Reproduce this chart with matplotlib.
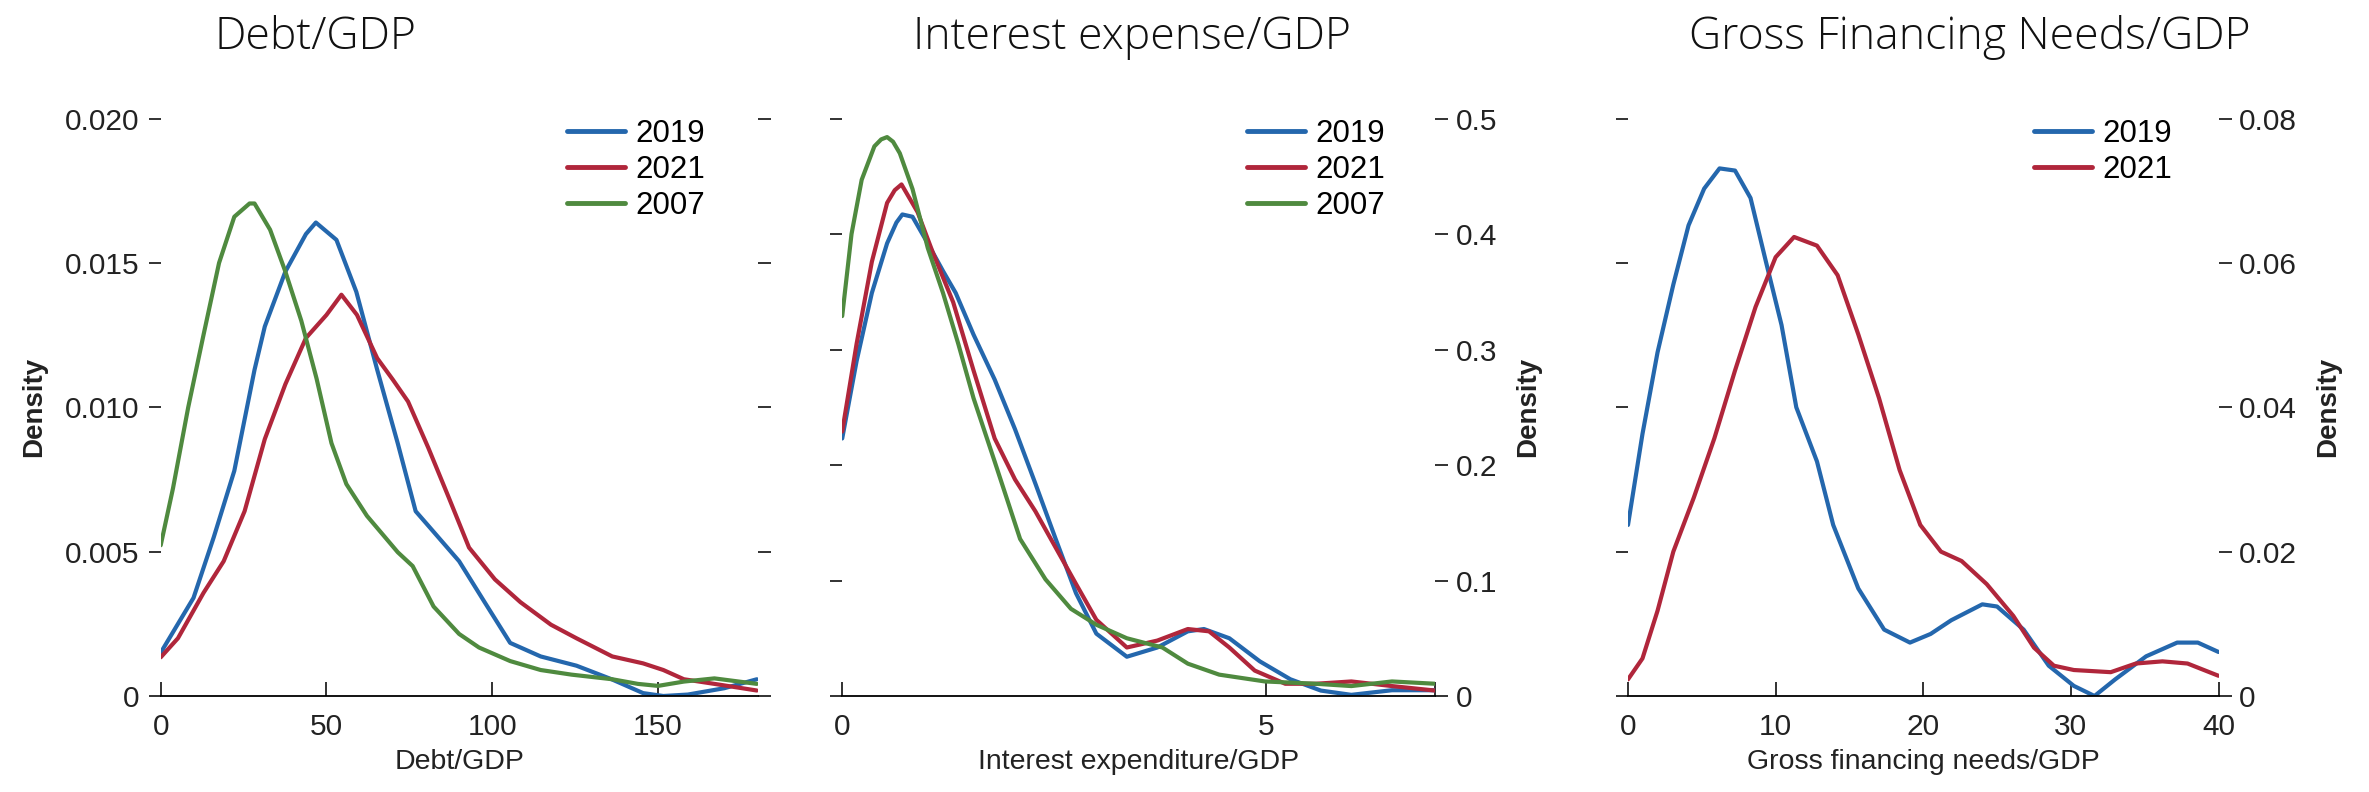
import matplotlib
matplotlib.use("Agg")
import matplotlib.pyplot as plt

plt.rcParams["font.family"] = ["Liberation Sans", "DejaVu Sans"]

BLUE = "#2467ad"
RED = "#b0263b"
GREEN = "#4f8a3f"

# Debt/GDP densities
debt_x_2019 = [0, 9.9, 16, 22.2, 28.3, 31.4, 37.6, 43.8, 46.8, 53, 59, 65.3, 71.5, 76.9, 80.7, 90,
               97.7, 105.4, 114.6, 125.4, 136, 145.5, 151.6, 159, 170, 179.8]
debt_y_2019 = [0.0015, 0.0034, 0.0055, 0.0078, 0.0113, 0.0128, 0.0147, 0.0160, 0.0164, 0.0158, 0.0140,
               0.0113, 0.00875, 0.0064, 0.0059, 0.00467, 0.00325, 0.00184, 0.00137, 0.00105, 0.00058,
               0.0001, 0.0, 0.00005, 0.00027, 0.00058]
debt_x_2021 = [0, 5.2, 12.9, 19, 25.3, 31.4, 37.6, 43.8, 50, 54.5, 59.2, 65.3, 70, 74.6, 80.7, 86.9,
               93, 100.8, 108.5, 117.7, 125.4, 136.2, 145.5, 151.6, 157.8, 167, 179.8]
debt_y_2021 = [0.00134, 0.0020, 0.00357, 0.00467, 0.0064, 0.0089, 0.0108, 0.0124, 0.0132, 0.0139,
               0.0132, 0.0117, 0.01096, 0.0102, 0.0086, 0.00687, 0.00514, 0.00404, 0.00325, 0.00247,
               0.0020, 0.00137, 0.00113, 0.0009, 0.00058, 0.00042, 0.00019]
debt_x_2007 = [0, 3.7, 8.3, 12.9, 17.6, 22.2, 26.8, 28.3, 33, 37.6, 42.4, 47, 51.5, 56, 62.2, 71.5, 76,
               82.3, 90, 96, 105.4, 114.6, 123.9, 136.2, 143.9, 150, 157.8, 167, 179.8]
debt_y_2007 = [0.00522, 0.00719, 0.0100, 0.0125, 0.0150, 0.0166, 0.01706, 0.01706, 0.01615, 0.0147,
               0.0130, 0.0110, 0.00876, 0.00734, 0.00624, 0.00498, 0.0045, 0.0031, 0.00215, 0.00168,
               0.00121, 0.0009, 0.00074, 0.00058, 0.00042, 0.00035, 0.0005, 0.00061, 0.00042]

# Interest expenditure/GDP densities
int_x_2019 = [0, 0.17, 0.35, 0.53, 0.64, 0.71, 0.83, 1.01, 1.19, 1.34, 1.55, 1.8, 2.04, 2.28, 2.52, 2.76,
              3.0, 3.36, 3.72, 4.08, 4.27, 4.57, 4.93, 5.29, 5.65, 6.01, 6.49, 7.0]
int_y_2019 = [0.223, 0.29, 0.349, 0.392, 0.410, 0.417, 0.415, 0.392, 0.368, 0.349, 0.313, 0.274, 0.231,
              0.184, 0.136, 0.089, 0.054, 0.034, 0.042, 0.056, 0.058, 0.05, 0.030, 0.0145, 0.0047,
              0.001, 0.005, 0.005]
int_x_2021 = [0, 0.17, 0.35, 0.53, 0.62, 0.70, 0.89, 1.07, 1.31, 1.55, 1.8, 2.04, 2.28, 2.52, 2.76, 3.0,
              3.36, 3.72, 4.08, 4.33, 4.57, 4.87, 5.23, 5.59, 6.01, 6.49, 7.0]
int_y_2021 = [0.229, 0.305, 0.376, 0.427, 0.438, 0.443, 0.419, 0.384, 0.341, 0.282, 0.223, 0.1875,
              0.16, 0.1285, 0.097, 0.066, 0.042, 0.048, 0.058, 0.056, 0.042, 0.022, 0.0106, 0.0106,
              0.0126, 0.0086, 0.0047]
int_x_2007 = [0, 0.11, 0.23, 0.38, 0.46, 0.53, 0.60, 0.68, 0.83, 1.01, 1.19, 1.37, 1.55, 1.8, 2.1, 2.4,
              2.7, 3.0, 3.36, 3.78, 4.08, 4.45, 4.99, 5.59, 6.01, 6.49, 7.0]
int_y_2007 = [0.329, 0.40, 0.447, 0.476, 0.482, 0.484, 0.480, 0.47, 0.439, 0.388, 0.349, 0.305, 0.258,
              0.203, 0.136, 0.101, 0.0755, 0.0617, 0.050, 0.042, 0.028, 0.0185, 0.0126, 0.0106,
              0.0086, 0.0126, 0.0106]

# Gross financing needs/GDP densities
gfn_x_2019 = [0, 0.98, 2.0, 3.07, 4.1, 5.16, 6.2, 7.25, 8.3, 9.34, 10.4, 11.4, 12.8, 13.9, 15.6, 17.35,
              19.1, 20.5, 21.9, 24.0, 25.0, 26.8, 28.5, 30.2, 31.6, 33.0, 35.1, 37.2, 38.6, 40]
gfn_y_2019 = [0.0237, 0.0363, 0.0476, 0.057, 0.0652, 0.0703, 0.0731, 0.0728, 0.069, 0.0602, 0.0514,
              0.040, 0.0325, 0.0237, 0.0149, 0.0092, 0.0074, 0.0086, 0.0105, 0.0127, 0.0124, 0.0092,
              0.0042, 0.0014, 0.0, 0.0023, 0.0055, 0.0074, 0.0074, 0.0061]
gfn_x_2021 = [0, 0.98, 2.0, 3.07, 4.46, 5.85, 7.25, 8.64, 10.0, 11.25, 12.8, 14.2, 15.6, 17.0, 18.4,
              19.8, 21.2, 22.6, 24.3, 26.1, 27.5, 28.85, 30.2, 32.7, 34.4, 36.2, 37.9, 40]
gfn_y_2021 = [0.0023, 0.0052, 0.0118, 0.020, 0.0275, 0.0357, 0.0451, 0.0539, 0.0608, 0.0636, 0.0624,
              0.0583, 0.0501, 0.0413, 0.0313, 0.0237, 0.020, 0.0187, 0.0155, 0.0111, 0.0067, 0.0042,
              0.0036, 0.0033, 0.0045, 0.0048, 0.0045, 0.0028]

titles = ["Debt/GDP", "Interest expense/GDP", "Gross Financing Needs/GDP"]
title_x = [315, 1132, 1970]
xlabels = ["Debt/GDP", "Interest expenditure/GDP", "Gross financing needs/GDP"]
xticks = [[0, 50, 100, 150], [0, 5], [0, 10, 20, 30, 40]]
xlims = [(0, 180), (0, 7), (0, 40)]
yticks = [[0, 0.005, 0.010, 0.015, 0.020], [0, 0.1, 0.2, 0.3, 0.4, 0.5],
          [0, 0.02, 0.04, 0.06, 0.08]]
ylabels_fmt = [["0", "0.005", "0.010", "0.015", "0.020"], ["0", "0.1", "0.2", "0.3", "0.4", "0.5"],
               ["0", "0.02", "0.04", "0.06", "0.08"]]

series = [
    [(debt_x_2019, debt_y_2019, BLUE, "2019"), (debt_x_2021, debt_y_2021, RED, "2021"),
     (debt_x_2007, debt_y_2007, GREEN, "2007")],
    [(int_x_2019, int_y_2019, BLUE, "2019"), (int_x_2021, int_y_2021, RED, "2021"),
     (int_x_2007, int_y_2007, GREEN, "2007")],
    [(gfn_x_2019, gfn_y_2019, BLUE, "2019"), (gfn_x_2021, gfn_y_2021, RED, "2021")],
]

W, H = 2369, 792
fig = plt.figure(figsize=(W / 100, H / 100), dpi=100)

lefts = [160.7, 842.2, 1628]
widths = [596.8, 593, 590.5]
legend_x = [0.680, 0.682, 0.687]
bottom_px, top_px = 696, 118.6

for i in range(3):
    ax = fig.add_axes([lefts[i] / W, (H - bottom_px) / H, widths[i] / W, (bottom_px - top_px) / H])
    for x, y, c, lab in series[i]:
        ax.plot(x, y, color=c, lw=3.0, label=lab, solid_capstyle="round", solid_joinstyle="round")
    ax.set_xlim(*xlims[i])
    ax.set_ylim(yticks[i][0], yticks[i][-1])
    for s in ["top", "left", "right"]:
        ax.spines[s].set_visible(False)
    ax.spines["bottom"].set_linewidth(1.3)
    ax.set_xticks(xticks[i])
    if i == 1:
        ax.set_xticks([7], minor=True)
    ax.tick_params(axis="x", which="both", direction="in", length=10, width=1.3, pad=12,
                   labelsize=21.5, colors="#222222")
    ax.set_yticks(yticks[i])
    ax.set_yticklabels(ylabels_fmt[i])
    ax.tick_params(axis="y", direction="out", length=9, width=1.3, pad=6, labelsize=21.5,
                   colors="#222222", left=True, right=True,
                   labelleft=(i == 0), labelright=(i != 0))
    ax.set_xlabel(xlabels[i], fontsize=20.5, labelpad=6, color="#222222")
    ax.set_ylabel("Density", fontsize=20, fontweight="bold", color="#222222", labelpad=13)
    if i != 0:
        ax.yaxis.set_label_position("right")
    leg = ax.legend(loc="upper left", bbox_to_anchor=(legend_x[i], 1.0), frameon=False, fontsize=22.5,
                    borderpad=0, borderaxespad=0, handlelength=1.88, handletextpad=0.32,
                    labelspacing=0.2)
    for h in leg.legend_handles:
        h.set_linewidth(3.5)
    fig.text(title_x[i] / W, 1 - 38 / H, titles[i], ha="center", va="center", fontsize=32,
             family=["Open Sans", "DejaVu Sans"], fontweight="light", color="#111111")

fig.savefig("out.png", dpi=100, facecolor="white")
